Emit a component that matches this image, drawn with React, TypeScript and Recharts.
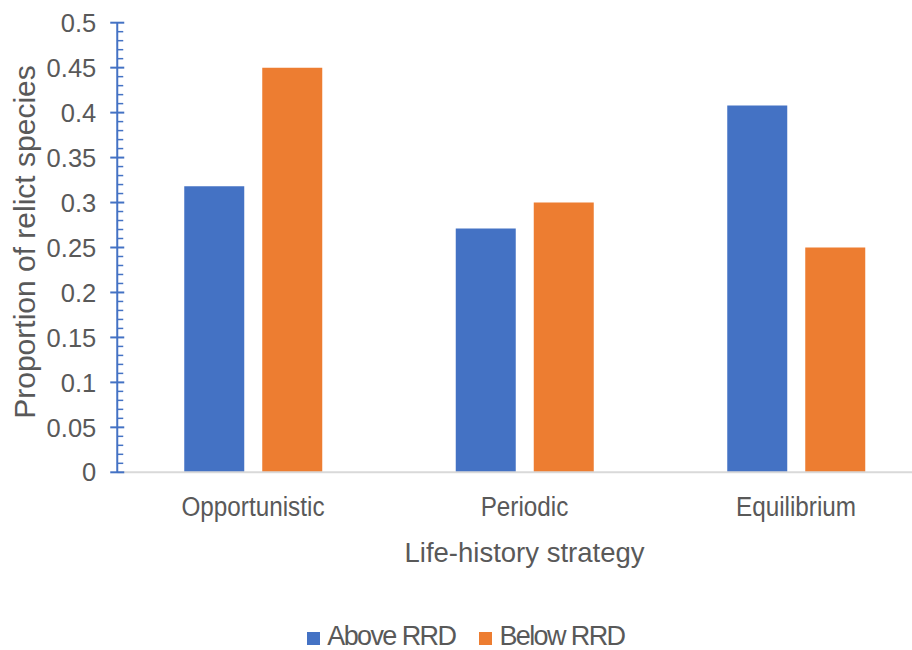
import { BarChart, Bar, XAxis, YAxis, Legend, Label } from 'recharts'

const strategies = ['Opportunistic', 'Periodic', 'Equilibrium']
const aboveRRD = [0.318, 0.271, 0.408]
const belowRRD = [0.45, 0.3, 0.25]
const seriesNames = ['Above RRD', 'Below RRD']

const yMajorTicks = [0, 0.05, 0.1, 0.15, 0.2, 0.25, 0.3, 0.35, 0.4, 0.45, 0.5]
const yTickLabels = ['0', '0.05', '0.1', '0.15', '0.2', '0.25', '0.3', '0.35', '0.4', '0.45', '0.5']

const BLUE = '#4472C4'
const ORANGE = '#ED7D31'
const TEXT = '#595959'
const FONT = '"Liberation Sans", Arial, sans-serif'
const LABEL_GAP = 21

const data = strategies.map((name, i) => ({ name, above: aboveRRD[i], below: belowRRD[i] }))
const seriesColors = [BLUE, ORANGE]

// minor marks every 0.01, labels only on the 0.05 steps
const yAllTicks = Array.from({ length: 51 }, (_, i) => i / 100)

function YTick(props: any) {
  const { x, y, payload } = props
  const axisX = x + LABEL_GAP
  const idx = yMajorTicks.findIndex((t) => Math.abs(t - payload.value) < 1e-6)
  if (idx < 0) {
    return <line x1={axisX} x2={axisX + 6} y1={y} y2={y} stroke={BLUE} strokeWidth={1.5} />
  }
  return (
    <g>
      <line x1={axisX - 7} x2={axisX + 7} y1={y} y2={y} stroke={BLUE} strokeWidth={2} />
      <text x={x} y={y} dy="0.36em" textAnchor="end" fill={TEXT} fontSize={25.5} fontFamily={FONT}>
        {yTickLabels[idx]}
      </text>
    </g>
  )
}

// category names: slightly condensed type
function XTick(props: any) {
  const { x, y, payload } = props
  return (
    <text
      transform={`translate(${x}, ${y}) scale(0.9, 1)`}
      dy="0.71em"
      textAnchor="middle"
      fill={TEXT}
      fontSize={27}
      fontFamily={FONT}
    >
      {payload.value}
    </text>
  )
}

function LegendContent() {
  return (
    <div
      style={{
        height: 28,
        display: 'flex',
        justifyContent: 'center',
        alignItems: 'center',
        gap: 24,
        fontFamily: FONT,
        fontSize: 27,
        letterSpacing: -1.6,
        color: TEXT,
      }}
    >
      {seriesNames.map((name, i) => (
        <span key={name} style={{ display: 'flex', alignItems: 'center' }}>
          <span style={{ width: 13, height: 13, background: seriesColors[i], marginRight: 7, marginTop: 4 }} />
          {name}
        </span>
      ))}
    </div>
  )
}

export default function App() {
  return (
    <div style={{ position: 'absolute', left: 0, top: 0, width: 912, height: 650, overflow: 'hidden', background: '#fff' }}>
      <BarChart
        width={934}
        height={650}
        data={data}
        margin={{ top: 22.7, right: 2.25, bottom: 0, left: 0 }}
        barSize={60}
        barGap={18}
      >
        <XAxis
          dataKey="name"
          interval={0}
          height={149.7}
          tickLine={false}
          tickSize={0}
          tickMargin={25}
          axisLine={{ stroke: '#D9D9D9', strokeWidth: 2 }}
          tick={<XTick />}
        >
          <Label
            content={(p: any) => {
              const vb = p.viewBox
              return (
                <text x={vb.x + vb.width / 2} y={562} textAnchor="middle" fill={TEXT} fontSize={27.5} fontFamily={FONT}>
                  Life-history strategy
                </text>
              )
            }}
          />
        </XAxis>
        <YAxis
          domain={[0, 0.5]}
          ticks={yAllTicks}
          interval={0}
          width={117.25}
          tickLine={false}
          tickSize={0}
          tickMargin={LABEL_GAP}
          axisLine={{ stroke: BLUE, strokeWidth: 2 }}
          tick={<YTick />}
        >
          <Label
            content={() => (
              <text
                transform="translate(35, 242) rotate(-90)"
                textAnchor="middle"
                fill={TEXT}
                fontSize={30}
                fontFamily={FONT}
              >
                Proportion of relict species
              </text>
            )}
          />
        </YAxis>
        <Legend verticalAlign="bottom" align="center" content={<LegendContent />} />
        <Bar dataKey="above" name={seriesNames[0]} fill={BLUE} isAnimationActive={false} />
        <Bar dataKey="below" name={seriesNames[1]} fill={ORANGE} isAnimationActive={false} />
      </BarChart>
    </div>
  )
}
